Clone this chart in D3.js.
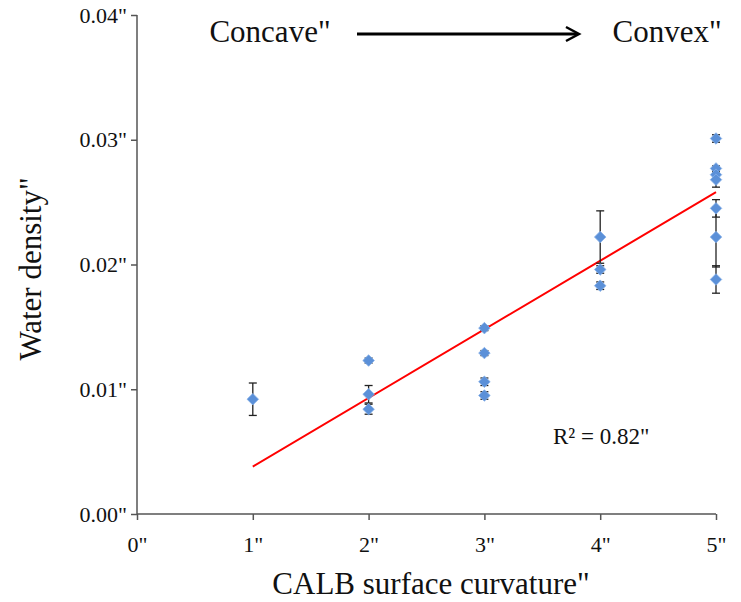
<!DOCTYPE html>
<html><head><meta charset="utf-8">
<script src="https://cdn.jsdelivr.net/npm/d3@7"></script>
<style>body{margin:0;background:#fff}text{font-family:"Liberation Serif","Times New Roman",serif}</style>
</head><body>
<svg id="c" width="741" height="602"></svg>
<script>
const xTicks = [0,1,2,3,4,5];
const xTickLabels = ['0"','1"','2"','3"','4"','5"'];
const yTicks = [0,0.01,0.02,0.03,0.04];
const yTickLabels = ['0.00"','0.01"','0.02"','0.03"','0.04"'];
const pointX =   [1,      2,      2,      2,      3,      3,      3,      3,      4,      4,      4,      5,      5,      5,      5,      5,      5,      5];
const pointY =   [0.0092, 0.0123, 0.0096, 0.0084, 0.0149, 0.0129, 0.0106, 0.0095, 0.0222, 0.0196, 0.0183, 0.0301, 0.0277, 0.0272, 0.0268, 0.0245, 0.0222, 0.0188];
const pointErr = [0.0013, 0.0002, 0.0007, 0.0004, 0.0002, 0.0002, 0.0003, 0.0003, 0.0021, 0.0003, 0.0003, 0.0003, 0.0002, 0.0003, 0.0006, 0.0007, 0.0024, 0.0011];
const trendX = [1, 5];
const trendY = [0.0038, 0.0258];
const r2Label = 'R² = 0.82"';

const svg = d3.select('#c');
const x = d3.scaleLinear().domain([0,5]).range([137,716]);
const y = d3.scaleLinear().domain([0,0.04]).range([514,15]);

// axes
const xAxis = svg.append('g').attr('transform','translate(0,514)')
  .call(d3.axisBottom(x).tickValues(xTicks).tickFormat((d,i)=>xTickLabels[i]).tickSize(6).tickPadding(16));
const yAxis = svg.append('g').attr('transform','translate(137,0)')
  .call(d3.axisLeft(y).tickValues(yTicks).tickFormat((d,i)=>yTickLabels[i]).tickSize(6).tickPadding(4));
[xAxis,yAxis].forEach(a=>{
  a.select('.domain').attr('stroke','#555').attr('stroke-width',1.5);
  a.selectAll('.tick line').attr('stroke','#555').attr('stroke-width',1.5);
  a.selectAll('.tick text').attr('fill','#111').style('font-size','22px').style('font-family','"Liberation Serif",serif');
});
xAxis.select('.domain').attr('d','M137,0H716');
yAxis.select('.domain').attr('d','M0,514V15');

// trend line
svg.append('line')
  .attr('x1',x(trendX[0])).attr('y1',y(trendY[0]))
  .attr('x2',x(trendX[1])).attr('y2',y(trendY[1]))
  .attr('stroke','#ff0000').attr('stroke-width',2);

// error bars
const pts = pointX.map((v,i)=>({x:v,y:pointY[i],e:pointErr[i]}));
const eb = svg.append('g').attr('stroke','#222').attr('stroke-width',1.3);
pts.forEach(p=>{
  const cx = x(p.x);
  eb.append('line').attr('x1',cx).attr('x2',cx).attr('y1',y(p.y-p.e)).attr('y2',y(p.y+p.e));
  [p.y-p.e,p.y+p.e].forEach(v=>eb.append('line').attr('x1',cx-4).attr('x2',cx+4).attr('y1',y(v)).attr('y2',y(v)));
});

// points
svg.append('g').selectAll('path').data(pts).join('path')
  .attr('d',d3.symbol().type(d3.symbolDiamond2).size(85))
  .attr('transform',d=>`translate(${x(d.x)},${y(d.y)})`)
  .attr('fill','#5b90d8').attr('stroke','#86b0e8').attr('stroke-width',0.8);

// R2
svg.append('text').attr('x',553).attr('y',444).style('font-size','23px').attr('fill','#111').text(r2Label);

// top annotations
svg.append('text').attr('x',270).attr('y',42).attr('text-anchor','middle').style('font-size','31px').attr('fill','#111').text('Concave"');
svg.append('text').attr('x',667).attr('y',42).attr('text-anchor','middle').style('font-size','31px').attr('fill','#111').text('Convex"');
svg.append('line').attr('x1',357).attr('x2',578).attr('y1',34).attr('y2',34).attr('stroke','#000').attr('stroke-width',3);
svg.append('path').attr('d','M566,27 L579,34 L566,41').attr('fill','none').attr('stroke','#000').attr('stroke-width',2.5);

// axis titles
svg.append('text').attr('x',431).attr('y',594).attr('text-anchor','middle').style('font-size','31px').attr('fill','#111').text('CALB surface curvature"');
svg.append('text').attr('transform','translate(41,269) rotate(-90)').attr('text-anchor','middle').style('font-size','31px').attr('fill','#111').text('Water density"');
</script>
</body></html>
